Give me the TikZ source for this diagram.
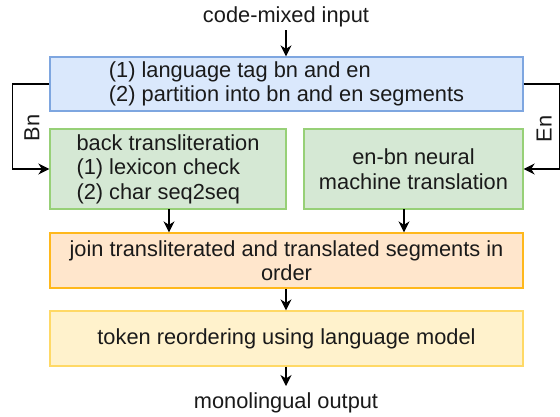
\documentclass[tikz,border=0pt]{standalone}
\usepackage{fontspec}
\setmainfont{Liberation Sans}
\usetikzlibrary{arrows.meta}
\definecolor{bluefill}{HTML}{DAE8FC}
\definecolor{bluedraw}{HTML}{7EA6E0}
\definecolor{greenfill}{HTML}{D5E8D4}
\definecolor{greendraw}{HTML}{97D077}
\definecolor{orangefill}{HTML}{FFE6CC}
\definecolor{orangedraw}{HTML}{FFB81C}
\definecolor{yellowfill}{HTML}{FFF2CC}
\definecolor{yellowdraw}{HTML}{FFD966}
\definecolor{txt}{HTML}{1A1A1A}
\tikzset{
  box/.style={rectangle, inner sep=0pt, line width=1.3pt, text=txt,
    font=\fontsize{21.8}{24.5}\selectfont},
  plain/.style={inner sep=0pt, text=txt, font=\fontsize{21.8}{24.5}\selectfont},
  arr/.style={line width=1.4pt, -{Stealth[length=11pt,width=11pt,inset=3.5pt]}},
}
\begin{document}
\begin{tikzpicture}[x=1pt,y=-1pt]
\useasboundingbox[fill=white] (0,0) rectangle (560,416);
\node[plain] (inp) at (286,17) {code-mixed input};
\node[box, fill=bluefill, draw=bluedraw, minimum width=473pt, minimum height=54pt, align=left] (tag) at (286.5,84) {(1) language tag bn and en\\(2) partition into bn and en segments};
\node[box, fill=greenfill, draw=greendraw, minimum width=236pt, minimum height=80pt, align=left] (tr) at (168,169) {back transliteration\\(1) lexicon check\\(2) char seq2seq};
\node[box, fill=greenfill, draw=greendraw, minimum width=219pt, minimum height=80pt, align=center] (nmt) at (413.5,169) {en-bn neural\\machine translation};
\node[box, fill=orangefill, draw=orangedraw, minimum width=473pt, minimum height=55pt, align=center] (join) at (286.5,260.5) {join transliterated and translated segments in\\order};
\node[box, fill=yellowfill, draw=yellowdraw, minimum width=473pt, minimum height=55pt] (reord) at (286.5,338.5) {token reordering using language model};
\node[plain] (out) at (286,403) {monolingual output};
\node[plain, rotate=90] (bn) at (32,128) {Bn};
\node[plain, rotate=90] (en) at (544,129) {En};
\coordinate (trb) at (169,209);
\coordinate (nmtb) at (404,209);
\draw[arr] (inp.south |- 0,30) -- (inp.south |- tag.north);
\draw[arr] (tag.west) -- ++(-37,0) |- (tr.west);
\draw[arr] (tag.east) -- ++(36,0) |- (nmt.east);
\draw[arr] (trb) -- (trb |- join.north);
\draw[arr] (nmtb) -- (nmtb |- join.north);
\draw[arr] (join.south -| 286,0) -- (reord.north -| 286,0);
\draw[arr] (reord.south -| 286,0) -- (286,386);
\end{tikzpicture}
\end{document}
